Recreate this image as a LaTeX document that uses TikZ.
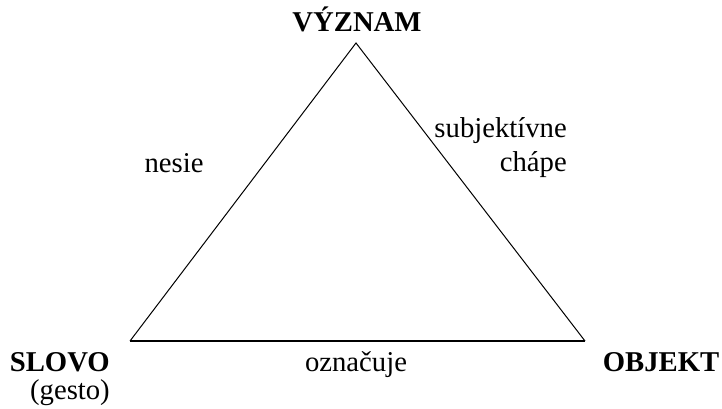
\documentclass[tikz,border=0pt]{standalone}
\usepackage{fontspec}
\setmainfont{Liberation Serif}
\newfontfamily\trifont{Liberation Serif}
\usetikzlibrary{positioning}

\begin{document}
\begin{tikzpicture}[x=1pt,y=1pt,
  lbl/.style={inner sep=0pt,font=\trifont\fontsize{28.7}{34.5}\selectfont},
  term/.style={inner sep=0pt,font=\trifont\fontsize{28.7}{28}\selectfont\bfseries},
  side/.style={draw=black,line width=1pt},
  groundside/.style={draw=black,line width=2pt}]
  \useasboundingbox (0,0) rectangle (722,409);
  % corners of the triangle
  \coordinate (cs) at (130,68);
  \coordinate (cv) at (356,366);
  \coordinate (co) at (585,68);
  \node[term,anchor=base] (vyznam) at (357,377) {VÝZNAM};
  \node[term,align=right,anchor=north east] (slovo) at (110,57) {SLOVO\\\mdseries(gesto)};
  \node[term,anchor=base] (objekt) at (661,37) {OBJEKT};
  \draw[side] (cs) -- (cv) -- (co);
  \draw[groundside] (cs) -- (co);
  \node[lbl,anchor=base] (nesie) at (174,236) {nesie};
  \node[lbl,align=right,anchor=north east] (chape) at (567,292) {subjektívne\\chápe};
  \node[lbl,anchor=base] (oznacuje) at (356,37) {označuje};
\end{tikzpicture}
\end{document}
